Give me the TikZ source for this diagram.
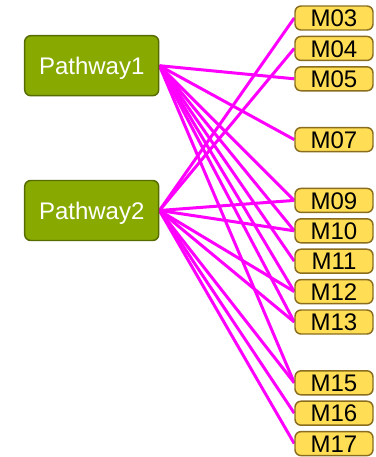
\documentclass[tikz,border=0pt]{standalone}
\usepackage{fontspec}
\setmainfont{Liberation Sans}
\usetikzlibrary{backgrounds}
\definecolor{pwfill}{HTML}{88AA00}
\definecolor{pwdraw}{HTML}{566B00}
\definecolor{mfill}{HTML}{FFDD55}
\definecolor{mdraw}{HTML}{8A6D1E}
\definecolor{edgecol}{HTML}{FF00FF}
\tikzset{
  pathwaybox/.style={draw=pwdraw, fill=pwfill, line width=1.1pt, rounded corners=4.5pt,
    minimum width=100.5pt, minimum height=45pt, inner sep=0pt, text=white,
    font=\fontsize{18pt}{18pt}\selectfont, text height=12.9pt, text depth=0pt},
  metabox/.style={draw=mdraw, fill=mfill, line width=1.1pt, rounded corners=4.5pt,
    minimum width=58.5pt, minimum height=18pt, inner sep=0pt, text=black,
    font=\fontsize{18pt}{18pt}\selectfont, text height=12.9pt, text depth=0pt},
  link/.style={draw=edgecol, line width=2.25pt}
}
\begin{document}
\begin{tikzpicture}[x=0.75pt, y=-0.75pt]
\useasboundingbox (0,0) rectangle (375,457);
\node[pathwaybox] (p1) at (91.7,65.7) {Pathway1};
\node[pathwaybox] (p2) at (91.7,210.5) {Pathway2};
\node[metabox] (m03) at (334,18) {M03};
\node[metabox] (m04) at (334,48.4) {M04};
\node[metabox] (m05) at (334,78.8) {M05};
\node[metabox] (m07) at (334,139.6) {M07};
\node[metabox] (m09) at (334,200.4) {M09};
\node[metabox] (m10) at (334,230.8) {M10};
\node[metabox] (m11) at (334,261.2) {M11};
\node[metabox] (m12) at (334,291.6) {M12};
\node[metabox] (m13) at (334,322) {M13};
\node[metabox] (m15) at (334,382.8) {M15};
\node[metabox] (m16) at (334,413.2) {M16};
\node[metabox] (m17) at (334,443.6) {M17};
\begin{scope}[on background layer]
\foreach \m in {m05,m07,m09,m10,m11,m12,m13,m15}
  \draw[link] (p1.east) -- (\m.west);
\foreach \m in {m03,m04,m09,m10,m12,m13,m15,m16,m17}
  \draw[link] (p2.east) -- (\m.west);
\end{scope}
\end{tikzpicture}
\end{document}
